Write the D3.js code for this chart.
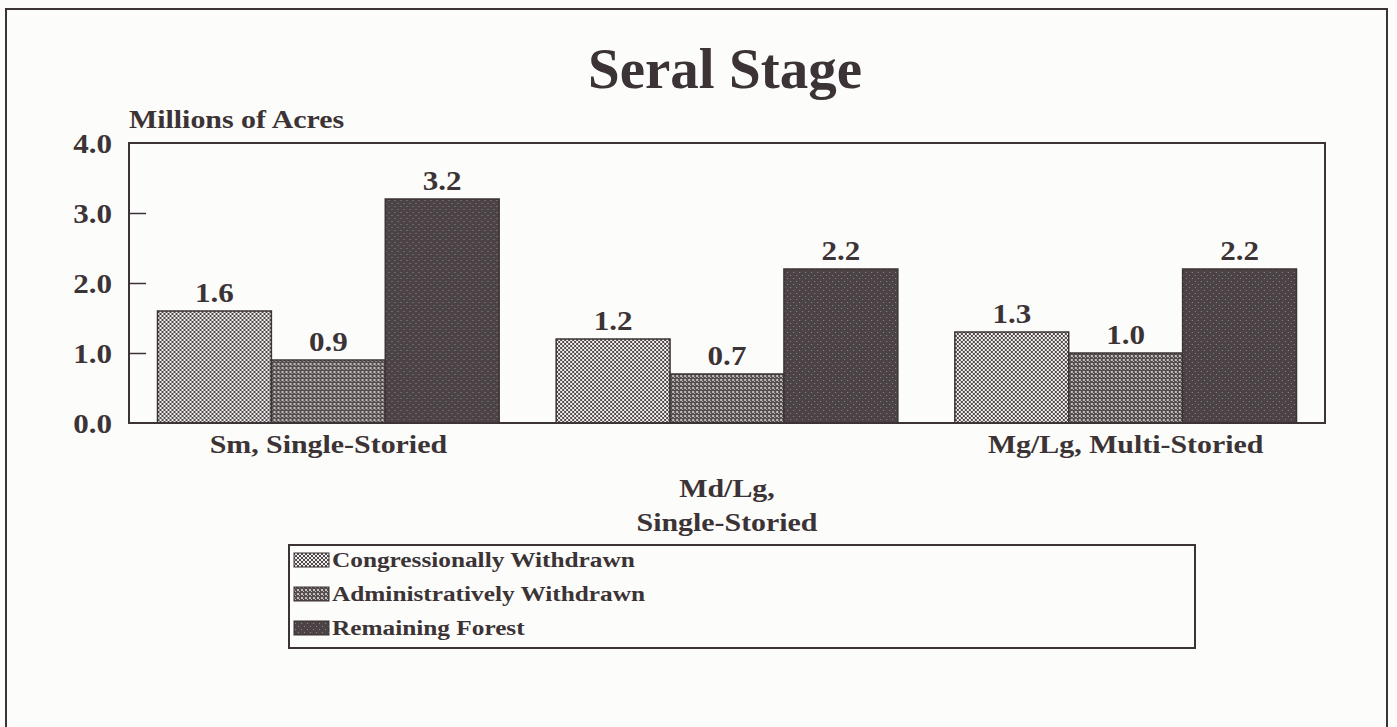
<!DOCTYPE html>
<html>
<head>
<meta charset="utf-8">
<script src="https://cdn.jsdelivr.net/npm/d3@7"></script>
<style>
  body { margin: 0; background: #fcfcfa; }
  svg { display: block; }
  text { font-family: "Liberation Serif", "Times New Roman", serif; font-weight: bold; fill: #3b3335; }
</style>
</head>
<body>
<div id="vis"></div>
<script>
// values
const categoryLabels = [["Sm, Single-Storied"], ["Md/Lg,", "Single-Storied"], ["Mg/Lg, Multi-Storied"]];
const categoryRow = [0, 1, 0];
const seriesNames = ["Congressionally Withdrawn", "Administratively Withdrawn", "Remaining Forest"];
const congressional = [1.6, 1.2, 1.3];
const administrative = [0.9, 0.7, 1.0];
const remaining = [3.2, 2.2, 2.2];
const yTicks = [0, 1, 2, 3, 4];

const series = [congressional, administrative, remaining];
const ink = "#3b3335";
const stretch = 1.15;   // type in the scan is set wide

var W = 1397, H = 727;
var margin = {top: 143, right: 72, bottom: 304, left: 129},
    width = W - margin.left - margin.right,
    height = H - margin.top - margin.bottom;

var svg = d3.select("#vis").append("svg")
    .attr("width", W)
    .attr("height", H);

svg.append("rect").attr("width", W).attr("height", H).attr("fill", "#fcfcfa");

// fill patterns
var defs = svg.append("defs");
function pattern(id, size, bg, fg, cells) {
    var p = defs.append("pattern")
        .attr("id", id)
        .attr("patternUnits", "userSpaceOnUse")
        .attr("width", size).attr("height", size);
    p.append("rect").attr("width", size).attr("height", size).attr("fill", bg);
    cells.forEach(function(c) {
        p.append("rect").attr("x", c[0]).attr("y", c[1])
            .attr("width", c[2]).attr("height", c[2]).attr("fill", fg);
    });
}
pattern("p0", 4, "#f3f1ef", "#4f4749", [[0, 0, 2], [2, 2, 2]]);
pattern("p1", 4, "#564d4f", "#c4bebe", [[0, 0, 2], [2, 2, 1]]);
pattern("p2", 6, "#4b4346", "#8e8789", [[0, 0, 1], [3, 3, 1]]);

// outer frame, open at the bottom
svg.append("path")
    .attr("d", "M6," + H + "V9H1387V" + H)
    .attr("fill", "none").attr("stroke", ink).attr("stroke-width", 2);

function stext(parent, x, y, str, size, anchor, sx) {
    return parent.append("text")
        .attr("transform", "translate(" + x + "," + y + ") scale(" + (sx || stretch) + ",1)")
        .attr("text-anchor", anchor || "start")
        .style("font-size", size + "px")
        .text(str);
}

stext(svg, 725, 88, "Seral Stage", 57, "middle", 1);

var g = svg.append("g")
    .attr("transform", "translate(" + margin.left + "," + margin.top + ")");

var x0 = d3.scaleBand()
    .domain(d3.range(categoryLabels.length))
    .range([0, width])
    .paddingInner(0.143)
    .paddingOuter(0.0715);

var x1 = d3.scaleBand()
    .domain(d3.range(series.length))
    .range([0, x0.bandwidth()]);

var y = d3.scaleLinear()
    .domain([0, 4])
    .range([height, 0]);

// bars
var groups = g.selectAll(".group")
    .data(d3.range(categoryLabels.length))
    .enter().append("g")
    .attr("transform", function(i) { return "translate(" + x0(i) + ",0)"; });

groups.selectAll("rect")
    .data(function(i) { return series.map(function(s, k) { return {k: k, v: s[i]}; }); })
    .enter().append("rect")
    .attr("x", function(d) { return x1(d.k); })
    .attr("y", function(d) { return y(d.v); })
    .attr("width", x1.bandwidth())
    .attr("height", function(d) { return height - y(d.v); })
    .attr("fill", function(d) { return "url(#p" + d.k + ")"; })
    .attr("stroke", ink).attr("stroke-width", 1.5);

groups.each(function(i) {
    var grp = d3.select(this);
    series.forEach(function(s, k) {
        stext(grp, x1(k) + x1.bandwidth() / 2, y(s[i]) - 9, s[i].toFixed(1), 27, "middle");
    });
});

// plot frame
g.append("rect")
    .attr("width", width).attr("height", height)
    .attr("fill", "none").attr("stroke", ink).attr("stroke-width", 2);

// y axis ticks (pointing inward) and labels
var yAxis = g.append("g")
    .call(d3.axisRight(y).tickValues(yTicks.slice(1, -1)).tickSize(17).tickFormat(""));
yAxis.select(".domain").remove();
yAxis.selectAll("line").attr("stroke", ink).attr("stroke-width", 1.5);

yTicks.forEach(function(t) {
    stext(g, -17, y(t) + 10, t.toFixed(1), 27, "end");
});

stext(g, 0, -15, "Millions of Acres", 26, "start");

// category labels
categoryLabels.forEach(function(lines, i) {
    lines.forEach(function(line, j) {
        stext(g, x0(i) + x0.bandwidth() / 2, height + 30 + categoryRow[i] * 44 + j * 34, line, 26, "middle");
    });
});

// legend
var legend = svg.append("g").attr("transform", "translate(289,545)");
legend.append("rect")
    .attr("width", 906).attr("height", 103)
    .attr("fill", "none").attr("stroke", ink).attr("stroke-width", 2);

seriesNames.forEach(function(name, k) {
    var base = 22 + k * 34;
    legend.append("rect")
        .attr("x", 5).attr("y", base - 14)
        .attr("width", 35).attr("height", 14)
        .attr("fill", "url(#p" + k + ")")
        .attr("stroke", ink).attr("stroke-width", 1);
    stext(legend, 43, base, name, 22, "start");
});
</script>
</body>
</html>
